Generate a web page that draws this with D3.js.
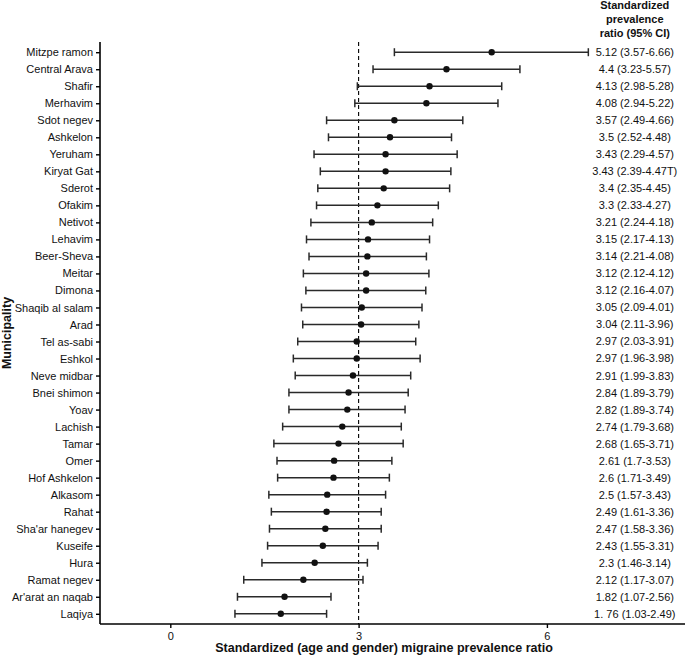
<!DOCTYPE html>
<html><head><meta charset="utf-8">
<script src="https://cdn.jsdelivr.net/npm/d3@7"></script>
<style>body{margin:0;background:#fff}svg{display:block}text{font-family:"Liberation Sans",Arial,sans-serif}</style>
</head><body>
<script>
const municipalities = ["Mitzpe ramon","Central Arava","Shafir","Merhavim","Sdot negev","Ashkelon","Yeruham","Kiryat Gat","Sderot","Ofakim","Netivot","Lehavim","Beer-Sheva","Meitar","Dimona","Shaqib al salam","Arad","Tel as-sabi","Eshkol","Neve midbar","Bnei shimon","Yoav","Lachish","Tamar","Omer","Hof Ashkelon","Alkasom","Rahat","Sha'ar hanegev","Kuseife","Hura","Ramat negev","Ar'arat an naqab","Laqiya"];
const ratio = [5.12,4.4,4.13,4.08,3.57,3.5,3.43,3.43,3.4,3.3,3.21,3.15,3.14,3.12,3.12,3.05,3.04,2.97,2.97,2.91,2.84,2.82,2.74,2.68,2.61,2.6,2.5,2.49,2.47,2.43,2.3,2.12,1.82,1.76];
const lower = [3.57,3.23,2.98,2.94,2.49,2.52,2.29,2.39,2.35,2.33,2.24,2.17,2.21,2.12,2.16,2.09,2.11,2.03,1.96,1.99,1.89,1.89,1.79,1.65,1.7,1.71,1.57,1.61,1.58,1.55,1.46,1.17,1.07,1.03];
const upper = [6.66,5.57,5.28,5.22,4.66,4.48,4.57,4.47,4.45,4.27,4.18,4.13,4.08,4.12,4.07,4.01,3.96,3.91,3.98,3.83,3.79,3.74,3.68,3.71,3.53,3.49,3.43,3.36,3.36,3.31,3.14,3.07,2.56,2.49];
const ciLabels = ["5.12 (3.57-6.66)","4.4 (3.23-5.57)","4.13 (2.98-5.28)","4.08 (2.94-5.22)","3.57 (2.49-4.66)","3.5 (2.52-4.48)","3.43 (2.29-4.57)","3.43 (2.39-4.47T)","3.4 (2.35-4.45)","3.3 (2.33-4.27)","3.21 (2.24-4.18)","3.15 (2.17-4.13)","3.14 (2.21-4.08)","3.12 (2.12-4.12)","3.12 (2.16-4.07)","3.05 (2.09-4.01)","3.04 (2.11-3.96)","2.97 (2.03-3.91)","2.97 (1.96-3.98)","2.91 (1.99-3.83)","2.84 (1.89-3.79)","2.82 (1.89-3.74)","2.74 (1.79-3.68)","2.68 (1.65-3.71)","2.61 (1.7-3.53)","2.6 (1.71-3.49)","2.5 (1.57-3.43)","2.49 (1.61-3.36)","2.47 (1.58-3.36)","2.43 (1.55-3.31)","2.3 (1.46-3.14)","2.12 (1.17-3.07)","1.82 (1.07-2.56)","1. 76 (1.03-2.49)"];
const xTicks = [0,3,6];
const refValue = 3;
const headerLines = ["Standardized","prevalence","ratio (95% CI)"];

(function(){
const W = 685, H = 659;
const svg = d3.select("body").append("svg").attr("width",W).attr("height",H);
const pL = 100, pR = 685, pT = 42, pB = 624;
const x = d3.scaleLinear().domain([-1.12, 8.2]).range([pL, pR]);
const y = d3.scalePoint().domain(municipalities).range([pT, pB]).padding(0.6);
const ink = "#000", barInk = "#2a2a2a";
const fs = 11;

const rows = municipalities.map((m,i)=>({m, r:ratio[i], lo:lower[i], hi:upper[i], lab:ciLabels[i]}));

svg.append("line").attr("x1",x(refValue)).attr("x2",x(refValue)).attr("y1",pT).attr("y2",pB)
  .attr("stroke",ink).attr("stroke-width",1.1).attr("stroke-dasharray","4,3");

const g = svg.append("g");
const cap = 4;
const rg = g.selectAll("g.row").data(rows).join("g").attr("class","row");
rg.append("line").attr("x1",d=>x(d.lo)).attr("x2",d=>x(d.hi)).attr("y1",d=>y(d.m)).attr("y2",d=>y(d.m))
  .attr("stroke",barInk).attr("stroke-width",1.5);
rg.append("line").attr("x1",d=>x(d.lo)).attr("x2",d=>x(d.lo)).attr("y1",d=>y(d.m)-cap).attr("y2",d=>y(d.m)+cap)
  .attr("stroke",barInk).attr("stroke-width",1.5);
rg.append("line").attr("x1",d=>x(d.hi)).attr("x2",d=>x(d.hi)).attr("y1",d=>y(d.m)-cap).attr("y2",d=>y(d.m)+cap)
  .attr("stroke",barInk).attr("stroke-width",1.5);
rg.append("circle").attr("cx",d=>x(d.r)).attr("cy",d=>y(d.m)).attr("r",3.2).attr("fill","#111");

const tableX = x(7.4);
rg.append("text").attr("x",tableX).attr("y",d=>y(d.m)).attr("dy","0.36em").attr("text-anchor","middle")
  .attr("font-size",fs).attr("fill","#111").text(d=>d.lab);
svg.append("g").selectAll("text").data(headerLines).join("text")
  .attr("x",tableX).attr("y",(d,i)=>9+i*14).attr("text-anchor","middle")
  .attr("font-size",fs).attr("font-weight","bold").attr("fill","#111").text(d=>d);

const xAxis = svg.append("g").attr("transform",`translate(0,${pB})`)
  .call(d3.axisBottom(x).tickValues(xTicks).tickSize(4).tickPadding(4).tickSizeOuter(0));
const yAxis = svg.append("g").attr("transform",`translate(${pL},0)`)
  .call(d3.axisLeft(y).tickSize(4).tickPadding(3).tickSizeOuter(0));
[xAxis,yAxis].forEach(a=>{
  a.select(".domain").attr("stroke",ink).attr("stroke-width",1.6);
  a.selectAll(".tick line").attr("stroke",ink).attr("stroke-width",1.4);
  a.selectAll(".tick text").attr("fill","#111").attr("font-size",fs).attr("font-family","Liberation Sans, Arial, sans-serif");
});
xAxis.select(".domain").attr("d",`M${pL},0H${pR}`);
yAxis.select(".domain").attr("d",`M0,${pT}V${pB}`);

svg.append("text").attr("x",384).attr("y",652).attr("text-anchor","middle").attr("font-size",12.5)
  .attr("font-weight","bold").attr("fill","#111").text("Standardized (age and gender) migraine prevalence ratio");
svg.append("text").attr("transform",`translate(10.5,${(pT+pB)/2}) rotate(-90)`).attr("text-anchor","middle")
  .attr("font-size",12.5).attr("font-weight","bold").attr("fill","#111").text("Municipality");
})();
</script>
</body></html>
